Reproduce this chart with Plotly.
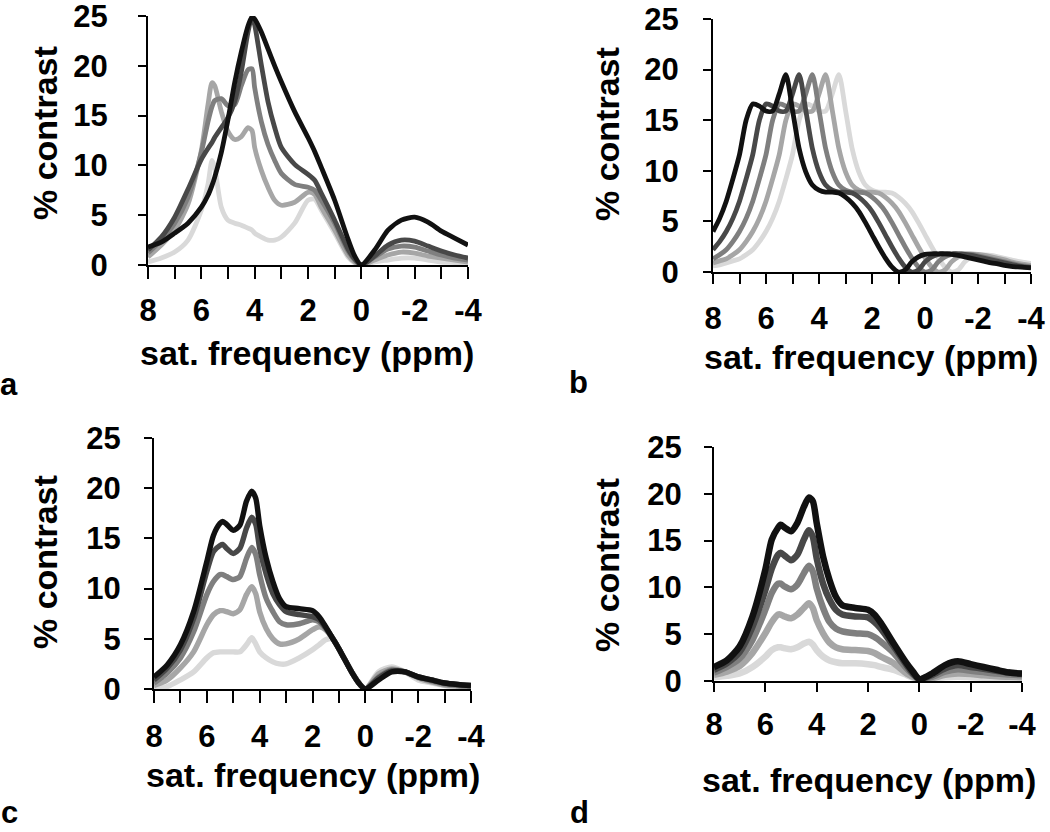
import plotly.graph_objects as go

# ---------------- data ----------------
colors = ["#d9d9d9", "#a6a6a6", "#7f7f7f", "#484848", "#111111"]

# panel a
xa = [8, 7.5, 7, 6.5, 6, 5.75, 5.6, 5.5, 5.25, 5, 4.75, 4.5, 4.25, 4.1, 4, 3.75, 3.5, 3.25, 3,
      2.5, 2, 1.75, 1.5, 1, 0.5, 0.25, 0, -0.5, -1, -1.5, -2, -2.5, -3, -3.5, -4]
a1 = [0.3, 0.7, 1.3, 2.5, 5.5, 8.1, 10.5, 9.8, 5.8, 4.5, 4.2, 4.0, 3.7, 3.5, 3.2, 2.8, 2.5, 2.5, 2.8,
      4.2, 6.5, 6.6, 5.5, 3.2, 0.8, 0.2, 0.0, 0.3, 0.5, 0.7, 0.7, 0.5, 0.3, 0.25, 0.2]
a2 = [0.8, 2.0, 3.5, 6.1, 11.5, 16.1, 18.3, 18.0, 15.4, 13.4, 12.6, 12.9, 13.8, 13.5, 11.8, 9.5, 7.8, 6.5, 6.0,
      6.3, 7.3, 7.1, 5.8, 3.5, 1.0, 0.3, 0.0, 0.5, 1.0, 1.3, 1.2, 0.9, 0.7, 0.5, 0.3]
a3 = [1.2, 2.5, 4.2, 6.8, 11.3, 14.4, 15.9, 16.5, 16.7, 16.0, 16.1, 18.0, 19.6, 19.7, 17.8, 14.4, 12.1, 10.5, 9.2,
      8.1, 7.8, 7.5, 6.5, 4.2, 1.4, 0.5, 0.0, 0.8, 1.6, 1.9, 1.8, 1.4, 1.0, 0.7, 0.5]
a4 = [1.5, 2.8, 4.8, 7.6, 10.6, 11.7, 12.3, 12.8, 13.8, 14.8, 16.4, 19.4, 23.4, 24.9, 24.1, 20.1, 16.4, 13.8, 11.8,
      10.1, 9.1, 8.5, 7.2, 4.5, 1.6, 0.6, 0.0, 0.9, 2.0, 2.5, 2.4, 1.9, 1.4, 1.0, 0.7]
a5 = [1.8, 2.3, 3.2, 4.2, 5.8, 7.0, 8.0, 8.8, 11.3, 14.6, 18.3, 21.4, 24.0, 24.9, 24.7, 23.4, 21.7, 20.0, 18.4,
      15.4, 12.8, 11.4, 9.8, 6.5, 2.6, 0.9, 0.0, 1.5, 3.5, 4.5, 4.8, 4.3, 3.4, 2.7, 2.0]

# panel b
xb = [8, 7.75, 7.5, 7.25, 7, 6.75, 6.5, 6.25, 6, 5.75, 5.5, 5.25, 5, 4.75, 4.5, 4.25, 4, 3.75, 3.5, 3.25,
      3, 2.75, 2.5, 2.25, 2, 1.75, 1.5, 1.25, 1, 0.75, 0.5, 0.25, 0, -0.25, -0.5, -0.75, -1, -1.25, -1.5,
      -1.75, -2, -2.25, -2.5, -2.75, -3, -3.25, -3.5, -3.75, -4]
b1 = [0.6, 0.7, 0.9, 1.1, 1.3, 1.7, 2.2, 3.0, 4.0, 5.3, 7.0, 9.2, 11.6, 15.0, 16.6, 16.4, 15.9, 15.9, 17.6, 19.5,
      16.0, 12.2, 9.9, 8.6, 8.1, 7.9, 7.9, 7.8, 7.4, 6.8, 6.0, 4.9, 3.7, 2.5, 1.4, 0.5, 0.0, 0.2, 1.0,
      1.5, 1.7, 1.7, 1.65, 1.5, 1.35, 1.2, 1.05, 0.95, 0.85]
b2 = [0.9, 1.1, 1.3, 1.7, 2.2, 3.0, 4.0, 5.3, 7.0, 9.2, 11.6, 15.0, 16.6, 16.4, 15.9, 15.9, 17.6, 19.5, 16.0, 12.2,
      9.9, 8.6, 8.1, 7.9, 7.9, 7.8, 7.4, 6.8, 6.0, 4.9, 3.7, 2.5, 1.4, 0.5, 0.0, 0.2, 1.0, 1.5, 1.75,
      1.8, 1.75, 1.65, 1.5, 1.35, 1.2, 1.0, 0.85, 0.75, 0.65]
b3 = [1.3, 1.7, 2.2, 3.0, 4.0, 5.3, 7.0, 9.2, 11.6, 15.0, 16.6, 16.4, 15.9, 15.9, 17.6, 19.5, 16.0, 12.2, 9.9, 8.6,
      8.1, 7.9, 7.9, 7.8, 7.4, 6.8, 6.0, 4.9, 3.7, 2.5, 1.4, 0.5, 0.0, 0.2, 1.0, 1.5, 1.75, 1.8, 1.8,
      1.75, 1.6, 1.45, 1.3, 1.15, 1.0, 0.85, 0.7, 0.6, 0.5]
b4 = [2.2, 3.0, 4.0, 5.3, 7.0, 9.2, 11.6, 15.0, 16.6, 16.4, 15.9, 15.9, 17.6, 19.5, 16.0, 12.2, 9.9, 8.6, 8.1, 7.9,
      7.9, 7.8, 7.4, 6.8, 6.0, 4.9, 3.7, 2.5, 1.4, 0.5, 0.0, 0.2, 1.0, 1.5, 1.75, 1.8, 1.8, 1.8, 1.75,
      1.65, 1.5, 1.35, 1.2, 1.05, 0.9, 0.75, 0.6, 0.5, 0.45]
b5 = [4.0, 5.3, 7.0, 9.2, 11.6, 15.0, 16.6, 16.4, 15.9, 15.9, 17.6, 19.5, 16.0, 12.2, 9.9, 8.6, 8.1, 7.9, 7.9, 7.8,
      7.4, 6.8, 6.0, 4.9, 3.7, 2.5, 1.4, 0.5, 0.0, 0.2, 1.0, 1.5, 1.75, 1.8, 1.8, 1.8, 1.75, 1.65, 1.5,
      1.35, 1.2, 1.05, 0.9, 0.8, 0.65, 0.55, 0.5, 0.45, 0.4]

# panel c
xc = [8, 7.5, 7, 6.5, 6, 5.75, 5.5, 5.4, 5.25, 5, 4.75, 4.5, 4.3, 4.15, 4, 3.75, 3.5, 3.25, 3,
      2.5, 2, 1.75, 1.5, 1.25, 1, 0.5, 0.25, 0, -0.5, -1, -1.5, -2, -2.5, -3, -3.5, -4]
c1 = [0.1, 0.25, 0.9, 1.7, 3.1, 3.6, 3.7, 3.7, 3.7, 3.7, 3.7, 4.4, 5.1, 4.5, 3.7, 3.1, 2.7, 2.5, 2.5,
      3.1, 3.9, 4.4, 4.9, 5.0, 4.0, 1.7, 0.7, 0.0, 1.7, 2.2, 1.7, 0.9, 0.6, 0.35, 0.25, 0.15]
c2 = [0.35, 0.9, 2.1, 3.7, 6.4, 7.4, 7.8, 7.8, 7.7, 7.5, 7.9, 9.4, 10.2, 9.5, 7.7, 6.0, 5.0, 4.5, 4.5,
      5.0, 5.9, 6.2, 5.9, 5.1, 4.0, 1.6, 0.6, 0.0, 1.5, 2.0, 1.7, 1.1, 0.7, 0.4, 0.3, 0.2]
c3 = [0.6, 1.6, 3.1, 5.7, 9.4, 10.7, 11.4, 11.4, 11.2, 10.9, 11.2, 13.0, 14.1, 13.4, 11.4, 9.0, 7.7, 6.7, 6.4,
      6.5, 6.9, 6.7, 6.0, 5.1, 4.0, 1.6, 0.6, 0.0, 1.2, 1.9, 1.7, 1.2, 0.8, 0.5, 0.35, 0.25]
c4 = [0.9, 2.1, 3.9, 7.0, 11.7, 13.7, 14.3, 14.4, 14.0, 13.5, 14.0, 16.0, 17.1, 16.4, 14.0, 11.4, 9.5, 8.4, 7.7,
      7.4, 7.2, 6.9, 6.1, 5.1, 4.0, 1.6, 0.6, 0.0, 1.1, 1.8, 1.7, 1.2, 0.9, 0.6, 0.45, 0.35]
c5 = [1.2, 2.4, 4.4, 7.7, 12.7, 15.3, 16.5, 16.7, 16.4, 15.8, 16.3, 18.7, 19.7, 19.0, 16.3, 13.0, 10.7, 9.0, 8.2,
      8.0, 7.8, 7.2, 6.2, 5.1, 4.0, 1.6, 0.6, 0.0, 0.9, 1.7, 1.7, 1.2, 0.9, 0.6, 0.45, 0.35]

# panel d
xd = [8, 7.5, 7, 6.5, 6, 5.75, 5.5, 5.4, 5.25, 5, 4.75, 4.5, 4.3, 4.15, 4, 3.75, 3.5, 3.25, 3,
      2.5, 2, 1.75, 1.5, 1, 0.5, 0.25, 0, -0.5, -1, -1.5, -2, -2.5, -3, -3.5, -4]
d1 = [0.4, 0.55, 0.8, 1.5, 2.6, 3.3, 3.6, 3.6, 3.5, 3.4, 3.6, 4.0, 4.2, 3.9, 3.3, 2.6, 2.2, 2.0, 1.9,
      1.9, 1.8, 1.7, 1.5, 1.2, 0.65, 0.35, 0.1, 0.25, 0.4, 0.45, 0.4, 0.35, 0.3, 0.25, 0.2]
d2 = [0.65, 1.0, 1.6, 3.0, 5.1, 6.3, 7.1, 7.1, 6.9, 6.7, 7.1, 7.8, 8.3, 7.8, 6.5, 5.1, 4.1, 3.6, 3.4,
      3.3, 3.2, 3.0, 2.6, 1.9, 0.8, 0.45, 0.15, 0.3, 0.65, 0.8, 0.75, 0.6, 0.5, 0.45, 0.4]
d3 = [0.9, 1.5, 2.4, 4.4, 7.6, 9.4, 10.4, 10.4, 10.1, 9.8, 10.3, 11.5, 12.3, 11.7, 9.9, 7.8, 6.3, 5.6, 5.3,
      5.1, 5.0, 4.7, 4.2, 3.0, 1.35, 0.7, 0.2, 0.45, 1.0, 1.25, 1.1, 0.95, 0.8, 0.7, 0.6]
d4 = [1.2, 1.9, 3.1, 5.8, 9.7, 12.0, 13.5, 13.7, 13.4, 12.9, 13.5, 15.1, 16.1, 15.4, 13.1, 10.4, 8.7, 7.6, 7.1,
      6.9, 6.8, 6.3, 5.6, 3.7, 1.7, 0.8, 0.2, 0.65, 1.35, 1.7, 1.5, 1.3, 1.1, 0.9, 0.75]
d5 = [1.5, 2.2, 3.7, 6.9, 11.9, 15.1, 16.4, 16.7, 16.4, 16.0, 16.9, 18.6, 19.6, 19.2, 16.9, 13.3, 10.8, 9.0, 8.1,
      7.8, 7.6, 7.1, 6.2, 4.0, 1.9, 1.0, 0.2, 0.8, 1.7, 2.1, 1.8, 1.5, 1.2, 0.9, 0.8]

x_tick_vals = [8, 6, 4, 2, 0, -2, -4]
x_tick_text = ["8", "6", "4", "2", "0", "-2", "-4"]
y_tick_vals = [0, 5, 10, 15, 20, 25]
y_tick_text = ["0", "5", "10", "15", "20", "25"]
panel_letters = ["a", "b", "c", "d"]
x_title = "sat. frequency (ppm)"
y_title = "% contrast"

# ---------------- layout helpers ----------------
W, H = 1050, 832
FONT = "Liberation Sans, Arial, Helvetica, sans-serif"


def px_x(p):
    return p / W


def px_y(p):
    return 1 - p / H


# plot-area pixel boxes: (left, right, top, bottom)
boxes = [(148, 468, 16, 265), (713, 1031, 19, 272), (154, 471, 438, 689), (714, 1022, 447, 681)]
line_widths = [4.8, 4.8, 5.4, 6.5]
x_standoff = [5, 8, 7, 6]
y_standoff = [24, 18, 17, 16]
x_ticklen = [12, 10, 12, 9]
minor_on = [True, True, True, False]

panels = [
    (xa, [a1, a2, a3, a4, a5]),
    (xb, [b1, b2, b3, b4, b5]),
    (xc, [c1, c2, c3, c4, c5]),
    (xd, [d1, d2, d3, d4, d5]),
]

fig = go.Figure()
layout = dict(
    width=W, height=H,
    margin=dict(l=0, r=0, t=0, b=0),
    paper_bgcolor="white", plot_bgcolor="white",
    showlegend=False,
    font=dict(family=FONT, color="black"),
)

annotations = []
for i, ((xs, series), box) in enumerate(zip(panels, boxes)):
    n = "" if i == 0 else str(i + 1)
    xname, yname = "xaxis" + n, "yaxis" + n
    xref, yref = "x" + n, "y" + n
    for col, ys in zip(colors, series):
        fig.add_trace(go.Scatter(
            x=xs, y=ys, mode="lines", xaxis=xref, yaxis=yref,
            line=dict(color=col, width=line_widths[i], shape="spline", smoothing=0.7),
            hoverinfo="skip",
        ))
    l, r, t, b = box
    xa_def = dict(
        domain=[px_x(l), px_x(r)], anchor=yref, range=[8, -4],
        showline=True, linecolor="black", linewidth=2, showgrid=False, zeroline=False,
        ticks="outside", ticklen=x_ticklen[i], tickwidth=2, tickcolor="black",
        tickvals=x_tick_vals, ticktext=x_tick_text,
        tickfont=dict(family=FONT, size=31, color="black", weight="bold"),
        ticklabelstandoff=x_standoff[i], ticklabeloverflow="allow",
        automargin=False,
    )
    if minor_on[i]:
        xa_def["minor"] = dict(ticks="outside", ticklen=x_ticklen[i], tickwidth=2,
                               tickcolor="black", dtick=1, tick0=0, showgrid=False)
    ya_def = dict(
        domain=[px_y(b), px_y(t)], anchor=xref, range=[0, 25],
        showline=True, linecolor="black", linewidth=2, showgrid=False, zeroline=False,
        ticks="outside", ticklen=8, tickwidth=2, tickcolor="black",
        tickvals=y_tick_vals, ticktext=y_tick_text,
        tickfont=dict(family=FONT, size=31, color="black", weight="bold"),
        ticklabelstandoff=y_standoff[i], ticklabeloverflow="allow",
        automargin=False,
    )
    layout[xname] = xa_def
    layout[yname] = ya_def

# axis titles and panel letters (pixel positions)
x_title_pos = [(307, 353), (871, 357), (313, 775), (869, 780)]
y_title_pos = [(45, 133), (607, 134), (45, 562), (607, 565)]
letter_pos = [(9, 404), (578, 402), (9, 832), (579, 832)]
for i in range(4):
    annotations.append(dict(
        x=px_x(x_title_pos[i][0]), y=px_y(x_title_pos[i][1]), xref="paper", yref="paper",
        text=x_title, showarrow=False, xanchor="center", yanchor="middle",
        font=dict(family=FONT, size=34, color="black", weight="bold"),
    ))
    annotations.append(dict(
        x=px_x(y_title_pos[i][0]), y=px_y(y_title_pos[i][1]), xref="paper", yref="paper",
        text=y_title, showarrow=False, textangle=-90, xanchor="center", yanchor="middle",
        font=dict(family=FONT, size=34, color="black", weight="bold"),
    ))
    annotations.append(dict(
        x=px_x(letter_pos[i][0]), y=px_y(letter_pos[i][1]), xref="paper", yref="paper",
        text=panel_letters[i], showarrow=False, xanchor="center", yanchor="bottom",
        font=dict(family=FONT, size=31, color="black", weight="bold"),
    ))

layout["annotations"] = annotations
fig.update_layout(**layout)
fig.write_html("out.html",
               config={"displayModeBar": False},
               post_script="document.body.style.margin='0px';document.body.style.overflow='hidden';")
